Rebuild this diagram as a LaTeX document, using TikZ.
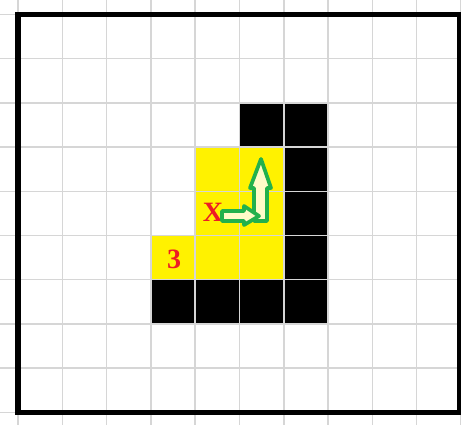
\documentclass[tikz,border=0pt]{standalone}
\usepackage{fontspec}
\setmainfont{Liberation Serif}
\definecolor{gridgray}{HTML}{D6D6D6}
\definecolor{cellyellow}{HTML}{FFF200}
\definecolor{arrowgreen}{HTML}{22B14C}
\definecolor{paleyellow}{HTML}{FFFBC8}
\definecolor{labelred}{HTML}{ED1C24}
\tikzset{
  gridline/.style={draw=gridgray, line width=1.1pt},
  blackcell/.style={fill=black},
  yellowcell/.style={fill=cellyellow},
  hollowarrow/.style={draw=arrowgreen, fill=paleyellow, line width=2.8pt, line join=round},
  redlabel/.style={text=labelred, font=\fontsize{21}{21}\selectfont\bfseries, inner sep=0pt},
  frame/.style={draw=black, line width=4pt}
}
\begin{document}
\begin{tikzpicture}[x=0.75pt,y=-0.75pt]
\useasboundingbox (0,0) rectangle (461,425);
\fill[white] (0,0) rectangle (461,425);
\clip (0,0) rectangle (461,425);
% cells: column c spans 18+44.3c .. 18+44.3(c+1); row r spans 14.5+44.2r ..
\foreach \c/\r in {5/2,6/2,6/3,6/4,6/5,3/6,4/6,5/6,6/6}
  \fill[blackcell] ({18+44.3*\c},{14.5+44.2*\r}) rectangle ({18+44.3*(\c+1)},{14.5+44.2*(\r+1)});
\foreach \c/\r in {4/3,5/3,4/4,5/4,3/5,4/5,5/5}
  \fill[yellowcell] ({18+44.3*\c},{14.5+44.2*\r}) rectangle ({18+44.3*(\c+1)},{14.5+44.2*(\r+1)});
% grid
\foreach \k in {0,...,10}
  \draw[gridline] ({18+44.3*\k},0) -- ({18+44.3*\k},425);
\foreach \k in {0,...,9}
  \draw[gridline] (0,{14.5+44.2*\k}) -- (461,{14.5+44.2*\k});
% frame
\draw[frame] (18,14.5) rectangle (459.5,412.8);
% labels
\node[redlabel] (x) at (213,212) {X};
\node[redlabel] (three) at (174,259) {3};
% hollow arrows
\draw[hollowarrow] (254,221) -- (254,188) -- (250,188) -- (261,159) -- (271,188) -- (267,188) -- (267,221) -- cycle;
\draw[hollowarrow] (222,211) -- (244,211) -- (244,206) -- (259,216) -- (244,225) -- (244,221) -- (222,221) -- cycle;
\end{tikzpicture}
\end{document}
